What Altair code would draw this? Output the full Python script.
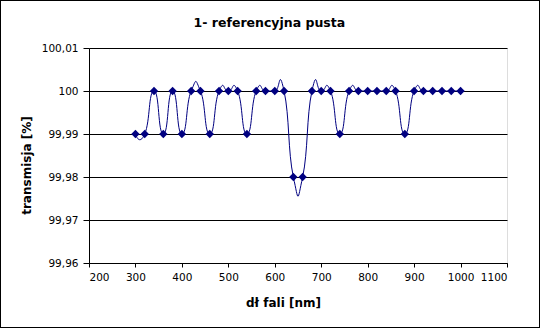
import altair as alt
import pandas as pd

wavelength = [300, 320, 340, 360, 380, 400, 420, 440, 460, 480, 500, 520,
              540, 560, 580, 600, 620, 640, 660, 680, 700, 720, 740, 760,
              780, 800, 820, 840, 860, 880, 900, 920, 940, 960, 980, 1000]
transmission = [99.99, 99.99, 100, 99.99, 100, 99.99, 100, 100, 99.99, 100, 100, 100,
                99.99, 100, 100, 100, 100, 99.98, 99.98, 100, 100, 100, 99.99, 100,
                100, 100, 100, 100, 100, 99.99, 100, 100, 100, 100, 100, 100]
x_ticks = [200, 300, 400, 500, 600, 700, 800, 900, 1000, 1100]
y_ticks = [99.96, 99.97, 99.98, 99.99, 100.0, 100.01]

df = pd.DataFrame({"x": wavelength, "y": transmission})

FONT = "DejaVu Sans"
NAVY = "#000080"

xenc = alt.X("x:Q",
             scale=alt.Scale(domain=[200, 1100], nice=False, zero=False),
             axis=alt.Axis(values=x_ticks, grid=False, title="dł fali [nm]", format="d",
                           tickSize=4, labelPadding=5, labelFontSize=10.5,
                           labelFont=FONT, labelColor="black",
                           domainColor="black", tickColor="black",
                           titleFont=FONT, titleFontSize=12, titleFontWeight="bold",
                           titleColor="black", titleX=194, titleY=43,
                           titleBaseline="alphabetic", titleAlign="center"))
yenc = alt.Y("y:Q",
             scale=alt.Scale(domain=[99.96, 100.01], nice=False, zero=False),
             axis=alt.Axis(values=y_ticks, grid=True, gridColor="black", gridOpacity=1,
                           title="transmisja [%]",
                           labelExpr="replace(toString(round(datum.value*100)/100), '.', ',')",
                           tickSize=6, labelPadding=5, labelFontSize=10.5,
                           labelFont=FONT, labelColor="black",
                           domainColor="black", tickColor="black",
                           titleFont=FONT, titleFontSize=12, titleFontWeight="bold",
                           titleColor="black", titleX=-58.6, titleY=117,
                           titleAngle=270, titleBaseline="alphabetic",
                           titleAlign="center"))

line = alt.Chart(df).mark_line(color=NAVY, strokeWidth=1, interpolate="cardinal",
                               tension=-0.8).encode(x=xenc, y=yenc)
pts = alt.Chart(df).mark_point(shape="diamond", filled=True, color=NAVY, size=70,
                               opacity=1).encode(x="x:Q", y="y:Q")
border = alt.Chart(df).mark_rect(fill="transparent", stroke="black", strokeWidth=1).encode(
    x=alt.value(-88.5), x2=alt.value(450.5), y=alt.value(-47.5), y2=alt.value(279.5))

chart = alt.layer(line, pts, border).properties(
    width=418, height=215,
    title=alt.TitleParams("1- referencyjna pusta", font=FONT, fontSize=12.5,
                          fontWeight="bold", color="black", anchor="middle",
                          dx=-28.6, offset=-39.5, baseline="alphabetic"),
    autosize=alt.AutoSizeParams(type="none"),
    padding={"left": 89, "top": 48, "right": 33, "bottom": 65},
).configure_view(stroke=None).configure(background="white")

chart.save("out.html", embed_options={"renderer": "svg", "actions": False})
